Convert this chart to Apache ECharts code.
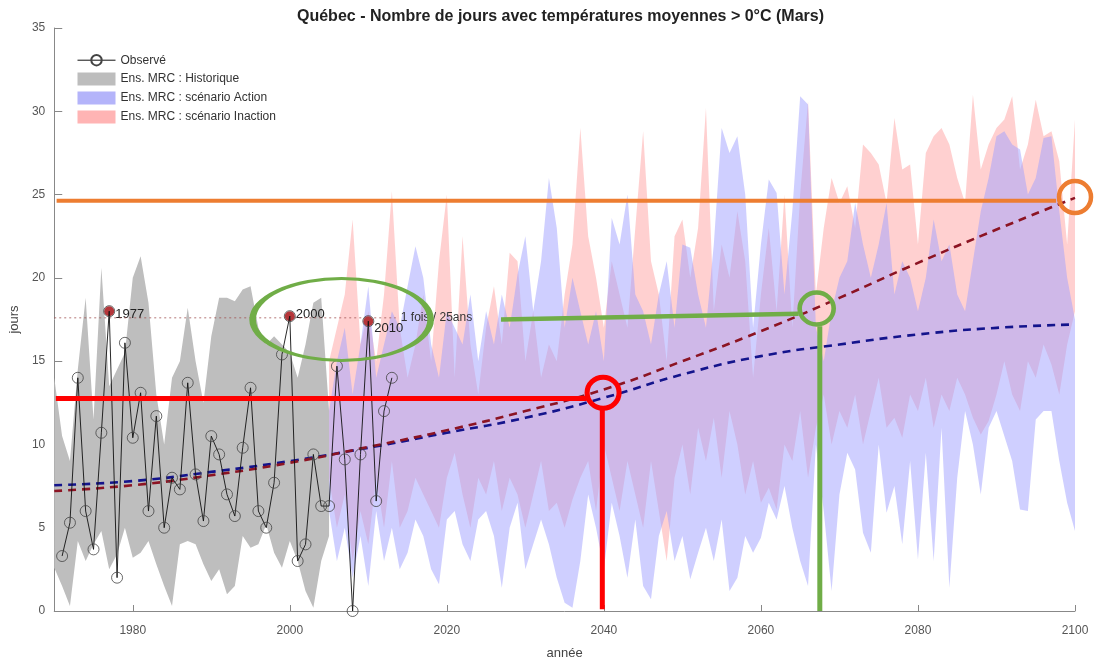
<!DOCTYPE html>
<html>
<head>
<meta charset="utf-8">
<title>Québec - jours > 0°C (Mars)</title>
<script src="https://cdn.jsdelivr.net/npm/echarts@6.0.0/dist/echarts.min.js"></script>
<style>
html, body { margin: 0; padding: 0; background: #fff; }
#chart { width: 1094px; height: 665px; }
</style>
</head>
<body>
<div id="chart"></div>
<script>
// axes
var xTicks = [1980, 2000, 2020, 2040, 2060, 2080, 2100];

// observé (1971-2013)
var obsStart = 1971;
var obsValues = [3.3, 5.3, 14.0, 6.0, 3.7, 10.7, 18.0, 2.0, 16.1, 10.4,
                 13.1, 6.0, 11.7, 5.0, 8.0, 7.3, 13.7, 8.2, 5.4, 10.5,
                 9.4, 7.0, 5.7, 9.8, 13.4, 6.0, 5.0, 7.7, 15.4, 17.7,
                 3.0, 4.0, 9.4, 6.3, 6.3, 14.7, 9.1, 0.0, 9.4, 17.4,
                 6.6, 12.0, 14.0];

// années marquées (> seuil)
var peakYears = [1977, 2000, 2010];
var peakValues = [18.0, 17.7, 17.4];
var seuil = 17.6;
var seuilEnd = 2013.5;

// ensemble historique (1970-2005)
var histStart = 1970;
var histLow = [2.6, 1.5, 0.3, 4.2, 3.0, 4.0, 4.8, 2.5, 3.4, 5.0,
               3.2, 3.5, 4.2, 2.8, 1.5, 0.3, 4.0, 4.2, 4.0, 2.8,
               1.8, 2.5, 1.0, 1.5, 4.5, 3.8, 4.0, 5.2, 3.5, 2.6,
               4.2, 3.0, 1.2, 0.2, 3.0, 4.5];
var histHigh = [14.0, 10.5, 9.0, 14.5, 18.8, 11.5, 20.6, 13.5, 14.5, 15.5,
                20.0, 21.3, 18.5, 13.0, 10.0, 14.0, 15.0, 18.2, 15.0, 12.5,
                16.5, 18.8, 18.8, 18.6, 19.3, 19.5, 17.0, 16.0, 16.5, 16.0,
                15.5, 14.0, 16.0, 18.5, 18.8, 12.0];

// scénarios (2005-2100)
var projStart = 2005;
var actionLow = [6, 3, 5, 2, 4.5, 1.5, 6, 3, 5, 2.5,
                 3.5, 5.5, 4.5, 2.5, 1.6, 5.5, 6, 4, 3, 5.5,
                 6, 4.5, 1.4, 5, 6.5, 2.5, 4, 5.5, 4, 2,
                 0.5, 0.2, 3, 7, 5, 2.5, 6.5, 4.5, 2, 5.5,
                 1.5, 0.7, 4.5, 6, 3, 4.5, 1.9, 3.5, 5, 3,
                 5.5, 1.2, 2, 4.5, 3.5, 4.4, 6.5, 5.5, 7.5, 5,
                 3, 1.5, 10, 6, 1.2, 7, 9.5, 8.5, 4.7, 3.5,
                 10, 5.9, 7.5, 4, 9, 3.1, 9.5, 3, 11, 1.4,
                 8, 12, 10, 7, 11, 12, 10.5, 9, 6.1, 6,
                 11.5, 12, 12, 9, 6.5, 4.8];
var actionHigh = [12, 15, 17, 13, 16, 19.5, 14, 16, 18, 17,
                  19.5, 21.9, 20, 16, 14, 18, 17, 16, 19, 15,
                  18, 16, 19, 17, 20.2, 22.5, 18, 21, 26, 23,
                  17, 20, 18, 16, 18, 15, 23.6, 22, 25, 19,
                  18, 16, 19, 21, 17, 22, 21.8, 19, 17, 22,
                  29, 27.5, 28.5, 25, 17, 22, 25.9, 25.1, 19, 24,
                  30.9, 30.4, 17, 15, 18, 20, 21, 24.5, 22, 20,
                  22, 24.5, 19, 21, 20, 18, 20, 23.5, 21, 22,
                  19, 18, 21, 24, 26, 28.5, 28.8, 28, 27.7, 25,
                  26, 28.4, 28.5, 24, 20, 17.5];
var inactionLow = [8, 5, 7, 3, 6, 4, 8, 5, 9, 5,
                   6, 8, 7, 6, 5, 8, 9.5, 7, 5, 8,
                   7, 9, 6, 8, 7, 5, 7, 9, 6, 6.5,
                   5, 6.7, 8, 9, 6, 10, 8, 6, 9, 7,
                   5, 9, 6, 3, 8, 10, 7, 11, 9, 11.6,
                   8, 12, 10, 7, 9, 6.5, 7.4, 6.1, 10, 9,
                   12, 8, 11, 13, 10, 12, 11, 13, 10, 12,
                   14, 11, 11.6, 10.4, 13, 12, 14, 11, 13, 12,
                   14, 13, 11.6, 10.6, 11.4, 13, 15, 13, 12, 15,
                   14, 16, 14.8, 13, 16, 18];
var inactionHigh = [15, 17, 19, 23.5, 16, 18, 15, 19, 25.2, 17,
                    14, 16, 19, 15, 21, 25, 14, 22.5, 16, 13,
                    17, 19.5, 16, 21.5, 21, 15, 18, 14, 16, 15,
                    19, 22, 29, 22.5, 20, 17, 21, 19, 17, 23,
                    28.8, 21, 19, 15, 22.5, 23.5, 20, 23, 30.2, 18,
                    22, 20, 24, 21, 14, 19, 23, 18, 25, 17,
                    25, 30.6, 19, 23, 26, 24.5, 25.5, 23, 28, 27.5,
                    26.8, 24.5, 29.6, 26.5, 26.8, 22, 27.5, 28.5, 29, 28,
                    26, 24.5, 31, 26.5, 28, 29, 29.5, 30.9, 26.5, 28,
                    30.7, 28.5, 28.8, 27, 22, 29.5];

// tendances
var trendYears = [1970, 1980, 1990, 2000, 2010, 2020, 2030, 2040, 2050, 2060, 2070, 2080, 2090, 2100];
var trendAction = [7.55, 7.8, 8.35, 9.0, 9.8, 10.7, 11.6, 12.8, 14.2, 15.3, 16.0, 16.6, 17.0, 17.2];
var trendInaction = [7.2, 7.55, 8.15, 8.9, 9.85, 10.85, 12.0, 13.3, 15.0, 16.8, 18.8, 20.9, 22.9, 24.8];

// annotations (unités des axes)
var orangeLine = [[1970.3, 24.63], [2097.6, 24.63]];
var orangeRing = [2100, 24.85];
var redLine = [[1970.2, 12.75], [2037.8, 12.75]];
var redDrop = [[2039.8, 12.1], [2039.8, 0.1]];
var redRing = [2039.9, 13.1];
var greenOval = [2006.6, 17.5];
var greenLine = [[2026.9, 17.5], [2064.8, 17.85]];
var greenDrop = [[2067.5, 17.1], [2067.5, 0]];
var greenRing = [2067.1, 18.16];

var FONT = '"Liberation Sans", Arial, sans-serif';
var RING = 'path://M0,50 A50,50 0 1,1 100,50 A50,50 0 1,1 0,50 Z';

function yearsFrom(start, n) {
    var out = [];
    for (var i = 0; i < n; i++) out.push(start + i);
    return out;
}

function pairs(xs, ys) {
    return xs.map(function (x, i) { return [x, ys[i]]; });
}

// bande min-max dessinée en un seul polygone
function band(name, years, low, high, fill, legendColor) {
    return {
        type: 'custom',
        name: name,
        silent: true,
        data: years.map(function (y, i) { return [y, low[i], high[i]]; }),
        encode: { x: 0, y: [1, 2] },
        itemStyle: { color: legendColor },
        renderItem: function (params, api) {
            if (params.dataIndex !== 0) return null;
            var pts = [];
            for (var i = 0; i < years.length; i++) pts.push(api.coord([years[i], high[i]]));
            for (var j = years.length - 1; j >= 0; j--) pts.push(api.coord([years[j], low[j]]));
            return { type: 'polygon', shape: { points: pts }, style: { fill: fill } };
        }
    };
}

function seg(data, color, width) {
    return {
        type: 'line', data: data, symbol: 'none', clip: false, silent: true,
        lineStyle: { color: color, width: width }, z: 5
    };
}

function ring(center, color, size, width) {
    return {
        type: 'scatter', data: [center], symbol: RING, symbolSize: size, clip: false, silent: true,
        itemStyle: { color: 'rgba(0,0,0,0)', borderColor: color, borderWidth: width, opacity: 1 }, z: 5
    };
}

var histYears = yearsFrom(histStart, histLow.length);
var projYears = yearsFrom(projStart, actionLow.length);
var obsYears = yearsFrom(obsStart, obsValues.length);

var chart = echarts.init(document.getElementById('chart'));

var option = {
    animation: false,
    textStyle: { fontFamily: FONT },
    title: {
        text: 'Québec - Nombre de jours avec températures moyennes > 0°C (Mars)',
        left: 297, top: 9, padding: 0,
        textStyle: { fontFamily: FONT, fontSize: 16, fontWeight: 'bold', color: '#222' }
    },
    legend: {
        orient: 'vertical', left: 77, top: 54, padding: 0,
        itemWidth: 38, itemHeight: 13, itemGap: 6,
        selectedMode: false,
        textStyle: { fontFamily: FONT, fontSize: 12, color: '#333' },
        data: [
            { name: 'Observé', lineStyle: { width: 1 } },
            { name: 'Ens. MRC : Historique', icon: 'rect' },
            { name: 'Ens. MRC : scénario Action', icon: 'rect' },
            { name: 'Ens. MRC : scénario Inaction', icon: 'rect' }
        ]
    },
    grid: { left: 53, right: 19, top: 28, bottom: 51 },
    xAxis: {
        type: 'value', min: 1970, max: 2100,
        name: 'année', nameLocation: 'middle', nameGap: 36,
        nameTextStyle: { fontFamily: FONT, fontSize: 13, color: '#444' },
        axisLine: { show: true, lineStyle: { color: '#888' } },
        axisTick: { show: true, inside: true, length: 6, customValues: xTicks, lineStyle: { color: '#888' } },
        axisLabel: {
            customValues: xTicks, color: '#555', fontSize: 12, margin: 14,
            formatter: function (v) { return String(v); }
        },
        splitLine: { show: false }
    },
    yAxis: {
        type: 'value', min: 0, max: 35, interval: 5,
        name: 'jours', nameLocation: 'middle', nameGap: 23,
        nameTextStyle: { fontFamily: FONT, fontSize: 13, color: '#444' },
        axisLine: { show: true, lineStyle: { color: '#888' } },
        axisTick: { show: true, inside: true, length: 8, lineStyle: { color: '#888' } },
        axisLabel: { color: '#555', fontSize: 12, margin: 9 },
        splitLine: { show: false }
    },
    series: [
        band('Ens. MRC : Historique', histYears, histLow, histHigh, '#bebebe', '#bdbdbd'),
        band('Ens. MRC : scénario Inaction', projYears, inactionLow, inactionHigh, 'rgba(255,150,150,0.45)', '#ffb4b4'),
        band('Ens. MRC : scénario Action', projYears, actionLow, actionHigh, 'rgba(160,160,255,0.5)', '#b4b4fa'),
        {
            type: 'line', silent: true, symbol: 'none',
            data: [[1970, seuil], [seuilEnd, seuil]],
            lineStyle: { color: '#a05050', width: 0.8, type: [2, 3] },
            endLabel: { show: true, formatter: '1 fois / 25ans', color: '#333', fontSize: 12, distance: 5 }
        },
        {
            type: 'line', silent: true, symbol: 'none', smooth: true,
            data: pairs(trendYears, trendAction),
            lineStyle: { color: '#14148c', width: 2.6, type: [8, 6] }
        },
        {
            type: 'line', silent: true, symbol: 'none', smooth: true,
            data: pairs(trendYears, trendInaction),
            lineStyle: { color: '#8c1423', width: 2.6, type: [8, 6] }
        },
        {
            type: 'line', name: 'Observé', silent: true,
            data: pairs(obsYears, obsValues),
            symbol: 'circle', symbolSize: 11, showAllSymbol: true,
            lineStyle: { color: '#111', width: 0.9 },
            itemStyle: { color: 'rgba(255,255,255,0)', borderColor: '#444', borderWidth: 0.8 }
        },
        {
            type: 'scatter', silent: true,
            data: pairs(peakYears, peakValues),
            symbol: 'circle', symbolSize: 10,
            itemStyle: { color: '#b5363a', opacity: 1 },
            label: {
                show: true, position: 'right', distance: 1, color: '#222', fontSize: 13,
                formatter: function (p) { return String(p.value[0]); }
            },
            labelLayout: function (p) {
                return { dy: p.dataIndex === 2 ? 7 : (p.dataIndex === 0 ? 3 : -2) };
            }
        },
        seg(orangeLine, '#ed7d31', 4),
        ring(orangeRing, '#ed7d31', [32, 32], 4.5),
        seg(redLine, '#ff0000', 5),
        seg(redDrop, '#ff0000', 5),
        ring(redRing, '#ff0000', [32, 31], 5),
        ring(greenOval, '#70ad47', [178, 82], 4.5),
        seg(greenLine, '#70ad47', 4.5),
        seg(greenDrop, '#70ad47', 5),
        ring(greenRing, '#70ad47', [34, 32], 4.5)
    ]
};

chart.setOption(option);
</script>
</body>
</html>
